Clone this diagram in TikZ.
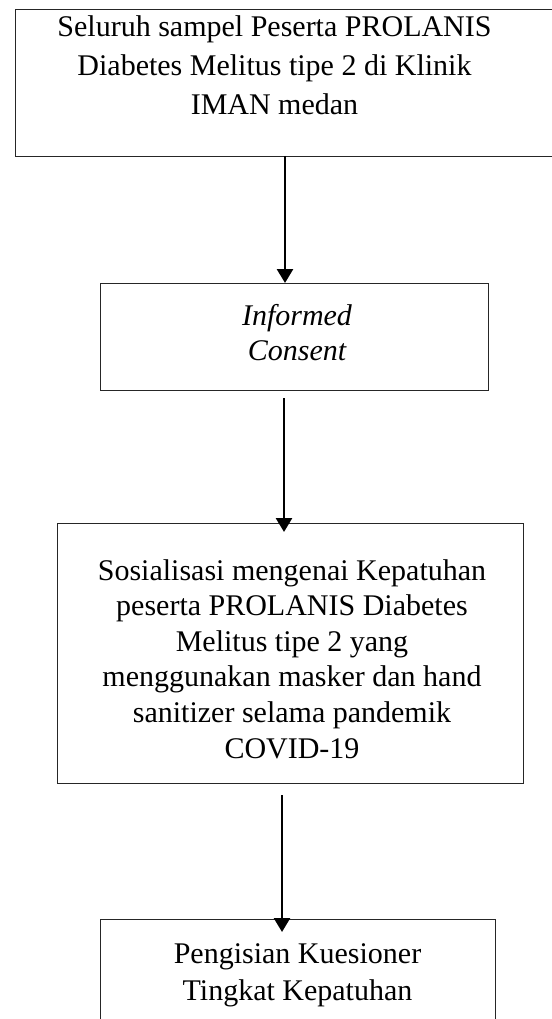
\documentclass[tikz,border=0pt]{standalone}
\usepackage{fontspec}
\setmainfont{Liberation Serif}
\usepackage{tikz}
\usetikzlibrary{positioning, arrows.meta}

\tikzset{
  box/.style={draw=black!85, line width=0.9pt, outer sep=0pt, inner sep=0pt},
  txt/.style={align=center, inner sep=0pt},
  arr/.style={line width=2.6pt, -{Triangle[width=16pt, length=14pt]}}
}

\begin{document}
\begin{tikzpicture}[x=1pt, y=-1pt]
    \useasboundingbox (0,0) rectangle (551,1019);
    %--- BOX 1 ---
    \node[box, minimum width=537pt, minimum height=147pt] (b1) at (283.5,82.5) {};
    \node[txt, font=\fontsize{30}{39}\selectfont, below=6pt of b1.north, xshift=-9pt] (t1)
      {Seluruh sampel Peserta PROLANIS\\Diabetes Melitus tipe 2 di Klinik\\IMAN medan};
    %--- BOX 2 ---
    \node[box, minimum width=388pt, minimum height=107pt] (b2) at (294,336.5) {};
    \node[txt, font=\fontsize{30}{35}\selectfont, below=21pt of b2.north, xshift=3pt] (t2)
      {\itshape Informed\\\itshape Consent};
    %--- BOX 3 ---
    \node[box, minimum width=466pt, minimum height=260pt] (b3) at (290,653) {};
    \node[txt, font=\fontsize{30}{35.6}\selectfont, below=36pt of b3.north, xshift=2pt] (t3)
      {Sosialisasi mengenai Kepatuhan\\peserta PROLANIS Diabetes\\Melitus tipe 2 yang\\menggunakan masker dan hand\\sanitizer selama pandemik\\COVID-19};
    %--- BOX 4 ---
    \node[box, minimum width=395pt, minimum height=150pt] (b4) at (297.5,994) {};
    \node[txt, font=\fontsize{30}{37}\selectfont, below=24pt of b4.north] (t4)
      {Pengisian Kuesioner\\Tingkat Kepatuhan};
    %--- ARROWS ---
    \draw[arr] ([xshift=-9pt]b2.north |- b1.south) -- ([xshift=-9pt]b2.north);
    \draw[arr, shorten <=8pt, shorten >=-9pt] ([xshift=-6pt]b3.north |- b2.south) -- ([xshift=-6pt]b3.north);
    \draw[arr, shorten <=12pt, shorten >=-13pt] ([xshift=-15.5pt]b4.north |- b3.south) -- ([xshift=-15.5pt]b4.north);
\end{tikzpicture}
\end{document}
